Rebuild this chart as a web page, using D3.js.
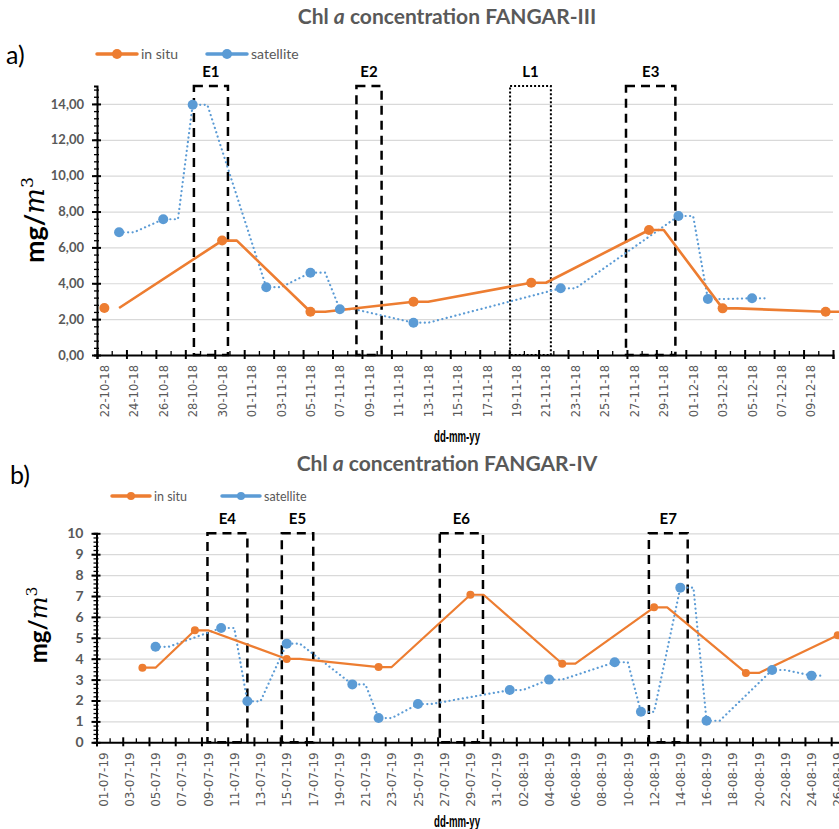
<!DOCTYPE html>
<html>
<head>
<meta charset="utf-8">
<script src="https://cdn.jsdelivr.net/npm/d3@7"></script>
<style>
  body { margin: 0; background: #fff; }
  svg { display: block; font-family: Lato, "Open Sans", sans-serif; }
</style>
</head>
<body>
<div id="chart"></div>
<script>
// ---- data: panel a (FANGAR-III) ----
var datesInSituA = ['2018-10-22','2018-10-30','2018-11-05','2018-11-12','2018-11-20','2018-11-28','2018-12-03','2018-12-10'];
var valuesInSituA = [2.62, 6.38, 2.41, 2.97, 4.03, 6.97, 2.60, 2.41];
var datesSatA = ['2018-10-23','2018-10-26','2018-10-28','2018-11-02','2018-11-05','2018-11-07','2018-11-12','2018-11-22','2018-11-30','2018-12-02','2018-12-05'];
var valuesSatA = [6.84, 7.57, 13.95, 3.78, 4.59, 2.55, 1.80, 3.72, 7.75, 3.12, 3.16];
var eventNamesA = ['E1', 'E2', 'L1', 'E3'];
var eventStartA = ['2018-10-28T14:00', '2018-11-08T15:00', '2018-11-19T01:30', '2018-11-26T22:30'];
var eventEndA = ['2018-10-30T21:30', '2018-11-10T08:00', '2018-11-21T20:00', '2018-11-30T07:00'];
var yTicksA = [0, 2, 4, 6, 8, 10, 12, 14];

// ---- data: panel b (FANGAR-IV) ----
var datesInSituB = ['2019-07-04','2019-07-08','2019-07-15','2019-07-22','2019-07-29','2019-08-05','2019-08-12','2019-08-19','2019-08-26'];
var valuesInSituB = [3.57, 5.36, 3.99, 3.60, 7.06, 3.76, 6.46, 3.32, 5.12];
var datesSatB = ['2019-07-05','2019-07-10','2019-07-12','2019-07-15','2019-07-20','2019-07-22','2019-07-25','2019-08-01','2019-08-04','2019-08-09','2019-08-11','2019-08-14','2019-08-16','2019-08-21','2019-08-24'];
var valuesSatB = [4.57, 5.47, 1.96, 4.72, 2.77, 1.16, 1.83, 2.50, 3.00, 3.83, 1.46, 7.40, 1.03, 3.46, 3.19];
var eventNamesB = ['E4', 'E5', 'E6', 'E7'];
var eventStartB = ['2019-07-09T11:00', '2019-07-15T03:00', '2019-07-27T04:00', '2019-08-12T02:30'];
var eventEndB = ['2019-07-12T12:00', '2019-07-17T12:30', '2019-07-30T11:00', '2019-08-15T01:30'];
var yTicksB = [0, 1, 2, 3, 4, 5, 6, 7, 8, 9, 10];

var ORANGE = '#ED7D31', BLUE = '#5B9BD5', GREY = '#595959';
var parse = d3.utcParse('%Y-%m-%d');
var parseT = d3.utcParse('%Y-%m-%dT%H:%M');
var fmt = d3.utcFormat('%d-%m-%y');
var HALF = 12 * 3600 * 1000, DAY = 24 * 3600 * 1000;

var svg = d3.select('#chart').append('svg')
    .attr('width', 839)
    .attr('height', 829);

svg.append('rect').attr('width', 839).attr('height', 829).attr('fill', '#fff');

function drawPanel(o) {
    var x = d3.scaleUtc().domain([parse(o.start), parse(o.end)]).range([o.left, o.right]);
    var y = d3.scaleLinear().domain([0, o.ymax]).range([o.bottom, o.top]);
    var g = svg.append('g');

    // letter + title
    g.append('text')
        .attr('x', o.letterX).attr('y', o.letterY)
        .style('font-family', 'Lato, sans-serif')
        .style('font-size', '25px')
        .attr('fill', '#000')
        .text(o.letter);

    var title = g.append('text')
        .attr('x', 447).attr('y', o.titleY)
        .attr('text-anchor', 'middle')
        .style('font-weight', 'bold')
        .style('font-size', '21px')
        .attr('fill', GREY);
    title.append('tspan').text('Chl ');
    title.append('tspan').style('font-style', 'italic').text('a');
    title.append('tspan').text(' concentration ' + o.station);

    // legend
    var leg = g.append('g').attr('transform', 'translate(' + o.legX + ',' + o.legY + ')');
    [['in situ', ORANGE], ['satellite', BLUE]].forEach(function(it, i) {
        var lg = leg.append('g').attr('transform', 'translate(' + (i * o.legGap) + ',0)');
        lg.append('line').attr('x1', 0).attr('x2', o.legLen)
            .attr('stroke', it[1]).attr('stroke-width', 3.5).attr('stroke-linecap', 'round');
        lg.append('circle').attr('cx', o.legLen / 2).attr('r', o.legR).attr('fill', it[1]);
        lg.append('text').attr('x', o.legLen + 4).attr('y', 5)
            .style('font-size', o.legFont + 'px').attr('fill', GREY).text(it[0]);
    });

    // gridlines
    g.append('g')
        .attr('transform', 'translate(' + o.left + ',0)')
        .call(d3.axisLeft(y).tickValues(o.yTicks.slice(1)).tickSize(-(o.gridRight - o.left)).tickFormat(''))
        .call(function(s) {
            s.select('.domain').remove();
            s.selectAll('line').attr('stroke', '#D9D9D9').attr('stroke-width', 1.2);
        });

    // event boxes
    var ev = o.names.map(function(n, i) {
        return { name: n, s: parseT(o.evStart[i]), e: parseT(o.evEnd[i]), dotted: n.charAt(0) === 'L' };
    });
    g.selectAll('.ev').data(ev).enter().append('rect')
        .attr('x', function(d) { return x(d.s); })
        .attr('y', y(o.ymax))
        .attr('width', function(d) { return x(d.e) - x(d.s); })
        .attr('height', y(0) - y(o.ymax))
        .attr('fill', 'none')
        .attr('stroke', '#000')
        .attr('stroke-width', function(d) { return d.dotted ? 2 : 2.5; })
        .attr('stroke-dasharray', function(d) { return d.dotted ? '2,2' : '9,6'; });
    g.selectAll('.evl').data(ev).enter().append('text')
        .attr('x', function(d) { return (x(d.s) + x(d.e)) / 2; })
        .attr('y', y(o.ymax) - 9)
        .attr('text-anchor', 'middle')
        .style('font-weight', 'bold')
        .style('font-size', '15px')
        .attr('fill', '#000')
        .text(function(d) { return d.name; });

    // series lines: marker at day centre, then flat for one day, then to next marker
    function pathPoints(dates, vals, skipFirst) {
        var pts = [];
        dates.forEach(function(d, i) {
            var t = parse(d).getTime();
            if (!(skipFirst && i === 0)) pts.push([t + HALF, vals[i]]);
            pts.push([t + HALF + DAY, vals[i]]);
        });
        return pts;
    }
    var line = d3.line().x(function(p) { return x(new Date(p[0])); }).y(function(p) { return y(p[1]); });

    g.append('path')
        .datum(pathPoints(o.satDates, o.satVals, false))
        .attr('fill', 'none').attr('stroke', BLUE).attr('stroke-width', 2.2)
        .attr('stroke-dasharray', '0.1,4.4').attr('stroke-linecap', 'round')
        .attr('d', line);
    g.append('path')
        .datum(pathPoints(o.isDates, o.isVals, o.skipFirst))
        .attr('fill', 'none').attr('stroke', ORANGE).attr('stroke-width', o.orangeW)
        .attr('stroke-linejoin', 'round')
        .attr('d', line);

    g.selectAll('.ms').data(o.satDates).enter().append('circle')
        .attr('cx', function(d) { return x(new Date(parse(d).getTime() + HALF)); })
        .attr('cy', function(d, i) { return y(o.satVals[i]); })
        .attr('r', o.satR).attr('fill', BLUE);
    g.selectAll('.mi').data(o.isDates).enter().append('circle')
        .attr('cx', function(d) { return x(new Date(parse(d).getTime() + HALF)); })
        .attr('cy', function(d, i) { return y(o.isVals[i]); })
        .attr('r', o.isR).attr('fill', ORANGE);

    // y axis: minor + major ticks
    var minor = d3.range(0, o.ymax + 1e-6, o.yMinor);
    g.append('g')
        .attr('transform', 'translate(' + o.left + ',0)')
        .call(d3.axisLeft(y).tickValues(minor).tickSize(3).tickFormat(''))
        .call(function(s) {
            s.select('.domain').attr('stroke', '#000').attr('stroke-width', 2);
            s.selectAll('line').attr('stroke', '#000').attr('stroke-width', 1.3).attr('x1', 2).attr('x2', -3);
        });
    g.append('g')
        .attr('transform', 'translate(' + o.left + ',0)')
        .call(d3.axisLeft(y).tickValues(o.yTicks).tickSize(5).tickPadding(8).tickFormat(o.yFmt))
        .call(function(s) {
            s.select('.domain').remove();
            s.selectAll('line').attr('stroke', '#000').attr('stroke-width', 2).attr('x1', 4);
            s.selectAll('text').attr('fill', GREY)
                .style('font-family', 'Lato, sans-serif')
                .style('font-weight', 'bold').style('font-size', o.yFont + 'px');
        });

    // x axis
    var start = parse(o.start), end = parse(o.end);
    var days = d3.utcDay.range(start, new Date(end.getTime() + 1));
    var major = days.filter(function(d, i) { return i % 2 === 0; });
    var minorX = days.filter(function(d, i) { return i % 2 === 1; });
    g.append('g')
        .attr('transform', 'translate(0,' + o.bottom + ')')
        .call(d3.axisBottom(x).tickValues(minorX).tickSize(4).tickFormat(''))
        .call(function(s) {
            s.select('.domain').remove();
            s.selectAll('line').attr('stroke', '#000').attr('stroke-width', 1.3).attr('y1', -4).attr('y2', 0);
        });
    g.append('g')
        .attr('transform', 'translate(0,' + o.bottom + ')')
        .call(d3.axisBottom(x).tickValues(major).tickSize(4).tickFormat(''))
        .call(function(s) {
            s.select('.domain').attr('stroke', '#000').attr('stroke-width', 2);
            s.selectAll('line').attr('stroke', '#000').attr('stroke-width', 2).attr('y1', -5).attr('y2', 4);
        });
    var labelDates = major.filter(function(d) { return d < end; })
        .map(function(d) { return new Date(d.getTime() + HALF); });
    g.append('g')
        .attr('transform', 'translate(0,' + o.bottom + ')')
        .call(d3.axisBottom(x).tickValues(labelDates).tickSize(0).tickFormat(fmt))
        .call(function(s) {
            s.select('.domain').remove();
            s.selectAll('text')
                .attr('transform', 'rotate(-90)')
                .attr('text-anchor', 'end')
                .attr('x', -10).attr('y', 0).attr('dy', '0.35em')
                .attr('fill', GREY)
                .style('font-family', '"DejaVu Sans", sans-serif')
                .style('font-size', o.xFont + 'px');
        });

    // axis titles
    g.append('text')
        .attr('x', 457).attr('y', o.xTitleY)
        .attr('text-anchor', 'middle')
        .attr('textLength', 46).attr('lengthAdjust', 'spacingAndGlyphs')
        .style('font-family', '"Liberation Sans", sans-serif')
        .style('font-weight', 'bold').style('font-size', '16px')
        .attr('fill', '#000')
        .text('dd-mm-yy');

    var yl = g.append('text')
        .attr('transform', 'translate(' + o.yTitleX + ',' + o.yTitleY + ') rotate(-90)')
        .attr('text-anchor', 'middle')
        .style('font-weight', 'bold').style('font-size', o.yTitleFont + 'px')
        .attr('fill', '#000');
    yl.append('tspan').text('mg/');
    yl.append('tspan').style('font-family', '"DejaVu Serif", serif').style('font-style', 'italic')
        .style('font-weight', 'normal').text('m');
    yl.append('tspan').attr('dy', -o.yTitleFont * 0.4).style('font-size', (o.yTitleFont * 0.65) + 'px')
        .style('font-family', '"DejaVu Serif", serif').style('font-weight', 'normal').text('3');
}

drawPanel({
    letter: 'a)', letterX: 6, letterY: 64, station: 'FANGAR-III', titleY: 24,
    legX: 97, legY: 54, legGap: 110, legLen: 40, legR: 5, legFont: 14,
    start: '2018-10-22', end: '2018-12-11', left: 97, right: 833, gridRight: 833,
    top: 86, bottom: 355, ymax: 15, yTicks: yTicksA, yMinor: 0.4,
    yFmt: function(d) { return d3.format('.2f')(d).replace('.', ','); }, yFont: 13,
    isDates: datesInSituA, isVals: valuesInSituA, satDates: datesSatA, satVals: valuesSatA,
    skipFirst: true, orangeW: 2.6, isR: 5, satR: 5,
    names: eventNamesA, evStart: eventStartA, evEnd: eventEndA,
    xFont: 11.5, xTitleY: 442, yTitleX: 44, yTitleY: 220, yTitleFont: 27
});

drawPanel({
    letter: 'b)', letterX: 10, letterY: 484, station: 'FANGAR-IV', titleY: 471,
    legX: 112, legY: 496, legGap: 110, legLen: 38, legR: 4, legFont: 12.5,
    start: '2019-07-01', end: '2019-08-27', left: 96.5, right: 844.3, gridRight: 839,
    top: 533.3, bottom: 742.3, ymax: 10, yTicks: yTicksB, yMinor: 0.2,
    yFmt: d3.format('d'), yFont: 14,
    isDates: datesInSituB, isVals: valuesInSituB, satDates: datesSatB, satVals: valuesSatB,
    skipFirst: false, orangeW: 2.2, isR: 4, satR: 5,
    names: eventNamesB, evStart: eventStartB, evEnd: eventEndB,
    xFont: 12, xTitleY: 827, yTitleX: 47, yTitleY: 625, yTitleFont: 24
});
</script>
</body>
</html>
